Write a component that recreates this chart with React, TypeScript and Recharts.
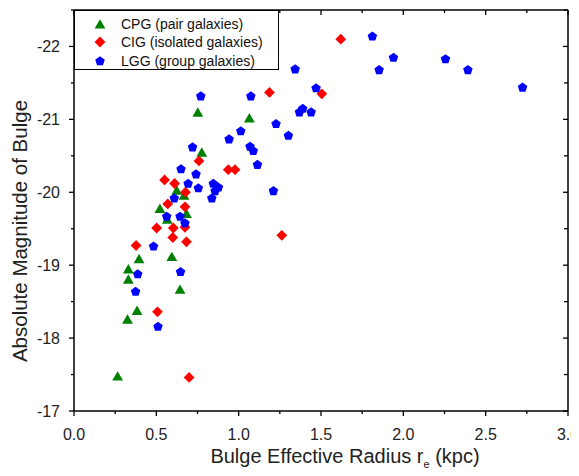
import React from 'react';
import { ScatterChart, Scatter, XAxis, YAxis, Legend } from 'recharts';

// CPG (pair galaxies)
const cpgRe = [0.752, 1.065, 0.776, 0.624, 0.668, 0.683, 0.522, 0.567, 0.594, 0.644, 0.395, 0.33, 0.33, 0.383, 0.325, 0.265];
const cpgMag = [-21.1, -21.02, -20.55, -20.03, -19.96, -19.71, -19.78, -19.63, -19.12, -18.67, -19.09, -18.95, -18.81, -18.38, -18.26, -17.48];

// CIG (isolated galaxies)
const cigRe = [1.62, 1.187, 1.505, 0.759, 0.937, 0.978, 0.55, 0.611, 0.677, 0.569, 0.674, 0.502, 0.603, 0.674, 0.6, 0.683, 0.377, 0.507, 0.699, 1.262];
const cigMag = [-22.1, -21.37, -21.35, -20.43, -20.31, -20.31, -20.17, -20.12, -20.0, -19.84, -19.8, -19.51, -19.51, -19.52, -19.38, -19.32, -19.27, -18.36, -17.46, -19.41];

// LGG (group galaxies)
const lggRe = [1.812, 1.94, 2.256, 1.343, 1.853, 2.392, 2.724, 1.47, 0.77, 1.074, 1.369, 1.389, 1.44, 1.227, 1.302, 1.013, 0.942, 1.069, 1.089, 1.114, 1.211, 0.72, 0.65, 0.741, 0.693, 0.755, 0.846, 0.877, 0.857, 0.837, 0.609, 0.563, 0.644, 0.674, 0.483, 0.387, 0.374, 0.647, 0.51];
const lggMag = [-22.14, -21.85, -21.83, -21.69, -21.68, -21.68, -21.44, -21.43, -21.32, -21.32, -21.1, -21.15, -21.1, -20.94, -20.78, -20.84, -20.73, -20.63, -20.57, -20.38, -20.02, -20.62, -20.32, -20.25, -20.12, -20.06, -20.12, -20.07, -20.02, -19.92, -19.92, -19.67, -19.67, -19.58, -19.26, -18.88, -18.64, -18.91, -18.16];

const seriesNames = ['CPG (pair galaxies)', 'CIG (isolated galaxies)', 'LGG (group galaxies)'];

const xTicks = [0, 0.25, 0.5, 0.75, 1, 1.25, 1.5, 1.75, 2, 2.25, 2.5, 2.75, 3];
const yTicks = [-22.5, -22, -21.5, -21, -20.5, -20, -19.5, -19, -18.5, -18, -17.5, -17];

const GREEN = '#008000';
const RED = '#ff0000';
const BLUE = '#0000ff';
const FONT = '"Liberation Sans", Arial, sans-serif';

const toPoints = (xs: number[], ys: number[]) => xs.map((x, i) => ({ x, y: ys[i] }));
const cpgData = toPoints(cpgRe, cpgMag);
const cigData = toPoints(cigRe, cigMag);
const lggData = toPoints(lggRe, lggMag);

const triPts = (cx: number, cy: number) => `${cx},${cy - 4.8} ${cx - 5.4},${cy + 4.6} ${cx + 5.4},${cy + 4.6}`;
const diaPts = (cx: number, cy: number) => `${cx},${cy - 5.4} ${cx + 5.4},${cy} ${cx},${cy + 5.4} ${cx - 5.4},${cy}`;
const pentPts = (cx: number, cy: number) => {
  const r = 5;
  const pts: string[] = [];
  for (let k = 0; k < 5; k++) {
    const a = ((-90 + 72 * k) * Math.PI) / 180;
    pts.push(`${cx + r * Math.cos(a)},${cy + 0.3 + r * Math.sin(a)}`);
  }
  return pts.join(' ');
};

const TriShape = (p: any) => <polygon points={triPts(p.cx, p.cy)} fill={GREEN} />;
const DiaShape = (p: any) => <polygon points={diaPts(p.cx, p.cy)} fill={RED} />;
const PentShape = (p: any) => <polygon points={pentPts(p.cx, p.cy)} fill={BLUE} />;

const isMajor = (v: number, step: number) => Math.abs(v / step - Math.round(v / step)) < 1e-6;

const BottomTick = (p: any) => {
  const { x, y, payload } = p;
  const major = isMajor(payload.value, 0.5);
  return (
    <g>
      <line x1={x} x2={x} y1={y} y2={y + (major ? 5 : 3)} stroke="#000" strokeWidth={1.3} />
      {major && (
        <text x={x} y={y + 29} textAnchor="middle" fontSize={16} fontFamily={FONT} fill="#222">
          {payload.value.toFixed(1)}
        </text>
      )}
    </g>
  );
};

const TopTick = (p: any) => {
  const { x, y, payload } = p;
  const major = isMajor(payload.value, 0.5);
  return <line x1={x} x2={x} y1={y} y2={y + (major ? 5 : 3)} stroke="#000" strokeWidth={1.3} />;
};

const LeftTick = (p: any) => {
  const { x, y, payload } = p;
  const major = isMajor(payload.value, 1);
  return (
    <g>
      <line x1={x} x2={x - (major ? 5 : 3)} y1={y} y2={y} stroke="#000" strokeWidth={1.3} />
      {major && (
        <text x={x - 14} y={y + 5.5} textAnchor="end" fontSize={16} fontFamily={FONT} fill="#222">
          {String(payload.value)}
        </text>
      )}
    </g>
  );
};

const RightTick = (p: any) => {
  const { x, y, payload } = p;
  const major = isMajor(payload.value, 1);
  return <line x1={x} x2={x - (major ? 5 : 4)} y1={y} y2={y} stroke="#000" strokeWidth={1.3} />;
};

const LegendBox = () => {
  const colors = [GREEN, RED, BLUE];
  const rowY = [12.7, 31, 50];
  return (
    <div
      style={{
        position: 'relative',
        width: 205,
        height: 60,
        boxSizing: 'border-box',
        border: '1px solid #000',
        background: '#fff',
        fontFamily: FONT,
        fontSize: 14,
        color: '#111',
      }}
    >
      {seriesNames.map((name, i) => (
        <div key={name} style={{ position: 'absolute', left: 0, top: rowY[i] - 9, height: 18, width: 205 }}>
          <svg width={14} height={14} style={{ position: 'absolute', left: 18, top: 2 }}>
            {i === 0 && <polygon points={triPts(7, 7)} fill={colors[i]} />}
            {i === 1 && <polygon points={diaPts(7, 7)} fill={colors[i]} />}
            {i === 2 && <polygon points={pentPts(7, 7)} fill={colors[i]} />}
          </svg>
          <span style={{ position: 'absolute', left: 46, top: 0, lineHeight: '18px', whiteSpace: 'nowrap' }}>{name}</span>
        </div>
      ))}
    </div>
  );
};

export default function App() {
  return (
    <div style={{ position: 'relative', width: 571, height: 460, background: '#fff' }}>
      <ScatterChart width={571} height={468} margin={{ top: 1, right: 0, bottom: 0, left: 0 }} style={{ overflow: 'visible' }}>
        <XAxis
          type="number"
          dataKey="x"
          domain={[0, 3]}
          ticks={xTicks}
          interval={0}
          height={65}
          tickSize={0}
          tickMargin={0}
          tickLine={false}
          tick={<BottomTick />}
          axisLine={{ stroke: '#000', strokeWidth: 1.5 }}
          allowDataOverflow
        />
        <XAxis
          xAxisId="top"
          orientation="top"
          type="number"
          dataKey="x"
          domain={[0, 3]}
          ticks={xTicks}
          interval={0}
          height={1}
          tickSize={0}
          tickMargin={0}
          tickLine={false}
          tick={<TopTick />}
          axisLine={{ stroke: '#000', strokeWidth: 1.5 }}
          allowDataOverflow
        />
        <YAxis
          type="number"
          dataKey="y"
          domain={[-22.5, -17]}
          reversed
          ticks={yTicks}
          interval={0}
          width={66}
          tickSize={0}
          tickMargin={0}
          tickLine={false}
          tick={<LeftTick />}
          axisLine={{ stroke: '#000', strokeWidth: 1.5 }}
          allowDataOverflow
        />
        <YAxis
          yAxisId="right"
          orientation="right"
          type="number"
          dataKey="y"
          domain={[-22.5, -17]}
          reversed
          ticks={yTicks}
          interval={0}
          width={11}
          tickSize={0}
          tickMargin={0}
          tickLine={false}
          tick={<RightTick />}
          axisLine={{ stroke: '#000', strokeWidth: 1.5 }}
          allowDataOverflow
        />
        <Scatter name={seriesNames[0]} data={cpgData} shape={<TriShape />} fill={GREEN} isAnimationActive={false} />
        <Scatter name={seriesNames[1]} data={cigData} shape={<DiaShape />} fill={RED} isAnimationActive={false} />
        <Scatter name={seriesNames[2]} data={lggData} shape={<PentShape />} fill={BLUE} isAnimationActive={false} />
        <Legend
          layout="vertical"
          align="center"
          verticalAlign="middle"
          content={<LegendBox />}
          wrapperStyle={{ left: 66, top: 2, width: 205, height: 60 }}
        />
      </ScatterChart>
      <div
        style={{
          position: 'absolute',
          left: 12 - 160,
          top: 223 - 12,
          width: 320,
          height: 24,
          lineHeight: '24px',
          textAlign: 'center',
          transform: 'rotate(-90deg)',
          fontFamily: FONT,
          fontSize: 20.5,
          color: '#222',
          whiteSpace: 'nowrap',
        }}
      >
        Absolute Magnitude of Bulge
      </div>
      <div
        style={{
          position: 'absolute',
          left: 337 - 200,
          top: 436,
          width: 400,
          height: 24,
          lineHeight: '24px',
          textAlign: 'center',
          fontFamily: FONT,
          fontSize: 20,
          color: '#222',
          whiteSpace: 'nowrap',
        }}
      >
        Bulge Effective Radius r<sub style={{ fontSize: 11, verticalAlign: 'sub', lineHeight: 0 }}>e</sub> (kpc)
      </div>
    </div>
  );
}
